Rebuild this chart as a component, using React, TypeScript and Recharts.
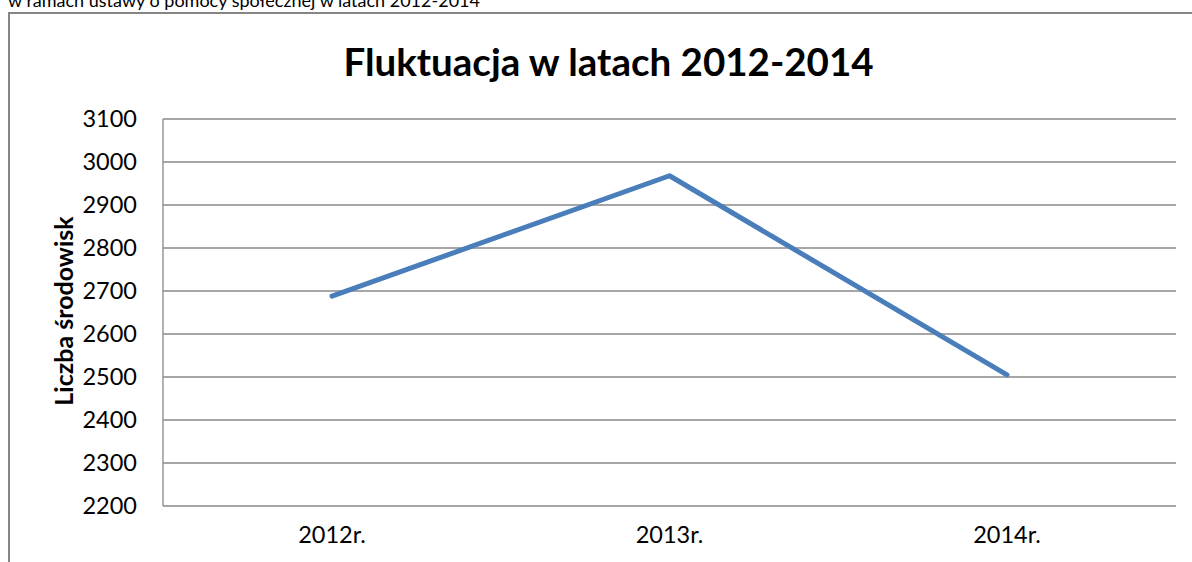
import { LineChart, Line, XAxis, YAxis, CartesianGrid } from "recharts";

const years = ["2012r.", "2013r.", "2014r."];
const counts = [2688, 2968, 2505];
const yTicks = [2200, 2300, 2400, 2500, 2600, 2700, 2800, 2900, 3000, 3100];

const data = years.map((year, i) => ({ year, value: counts[i] }));

const font = "Lato, 'Open Sans', sans-serif";

export default function App() {
  return (
    <div
      style={{
        position: "fixed",
        left: 0,
        top: 0,
        width: 1192,
        height: 562,
        overflow: "hidden",
        background: "#fff",
        fontFamily: font,
      }}
    >
      <div style={{ position: "absolute", left: 8, top: -10, fontSize: 18, lineHeight: 1.2, color: "#000", whiteSpace: "nowrap" }}>
        w ramach ustawy o pomocy społecznej w latach 2012-2014
      </div>

      <div
        style={{
          position: "absolute",
          left: 8,
          top: 12,
          width: 1300,
          height: 700,
          borderLeft: "2px solid #868686",
          borderTop: "2px solid #868686",
        }}
      />

      <div
        style={{
          position: "absolute",
          left: 0,
          width: 1192,
          top: 38,
          textAlign: "center",
          fontSize: 38.5,
          lineHeight: 1.2,
          fontWeight: 700,
          paddingLeft: 25,
          boxSizing: "border-box",
        }}
      >
        Fluktuacja w latach 2012-2014
      </div>

      <div
        style={{
          position: "absolute",
          left: 63,
          top: 311,
          transform: "translate(-50%, -50%) rotate(-90deg)",
          fontSize: 25,
          fontWeight: 700,
          whiteSpace: "nowrap",
        }}
      >
        Liczba środowisk
      </div>

      <div style={{ position: "absolute", left: 0, top: 0 }}>
        <LineChart
          width={1192}
          height={562}
          data={data}
          margin={{ top: 119, right: 16, bottom: 0, left: 0 }}
        >
          <CartesianGrid vertical={false} stroke="#888888" strokeWidth={1.3} />
          <XAxis
            dataKey="year"
            padding={{ left: 169, right: 169 }}
            axisLine={false}
            tickLine={false}
            tickSize={0}
            tickMargin={20}
            height={56}
            tick={{ fill: "#000", fontSize: 23.5, fontFamily: font }}
          />
          <YAxis
            domain={[2200, 3100]}
            ticks={yTicks}
            interval={0}
            width={163}
            axisLine={{ stroke: "#888888", strokeWidth: 1.3 }}
            tickLine={false}
            tickSize={0}
            tickMargin={26}
            tick={{ fill: "#000", fontSize: 23.5, fontFamily: font }}
          />
          <Line
            dataKey="value"
            stroke="#4a7ebb"
            strokeWidth={5}
            strokeLinecap="round"
            strokeLinejoin="round"
            dot={false}
            isAnimationActive={false}
          />
        </LineChart>
      </div>
    </div>
  );
}
